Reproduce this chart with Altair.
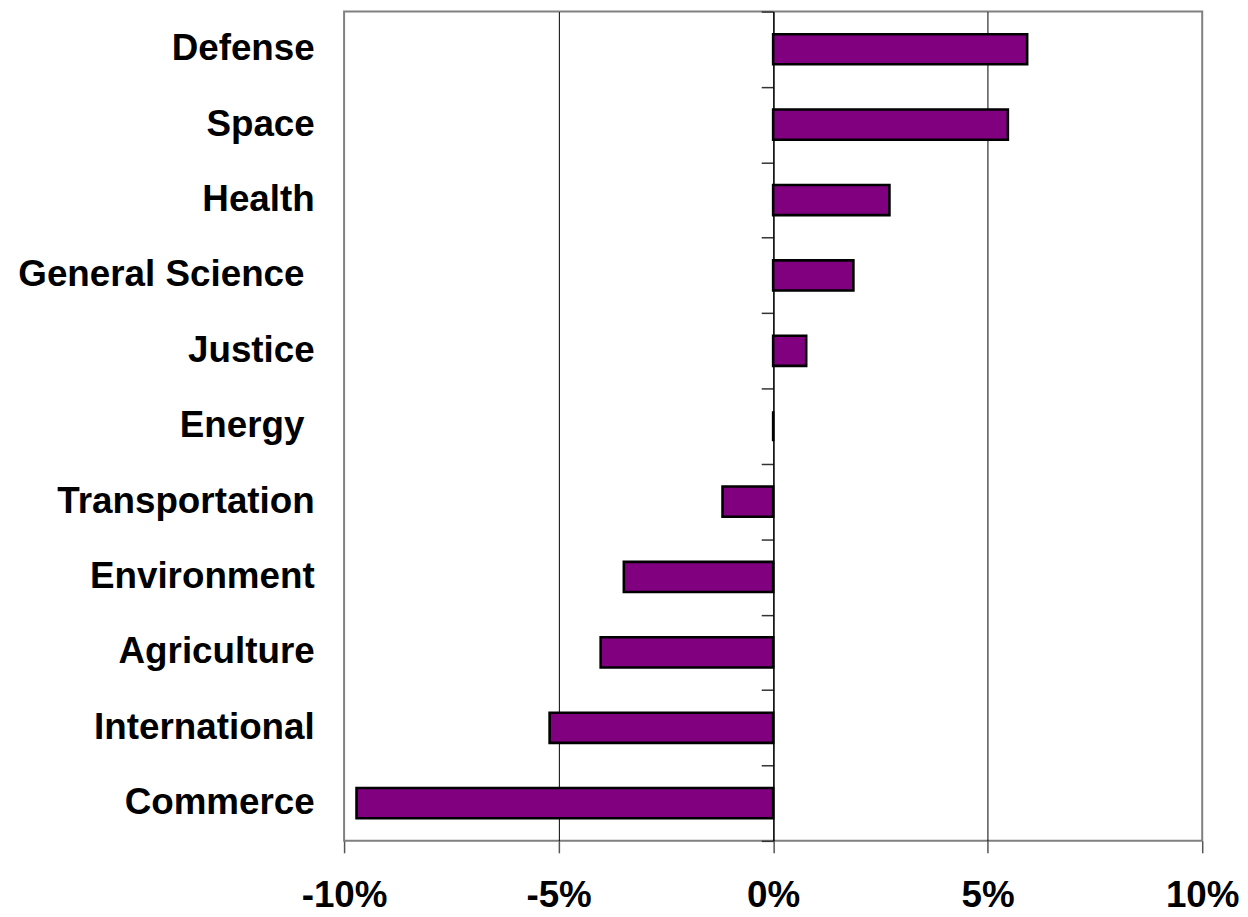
import altair as alt
import pandas as pd

categories = ["Defense", "Space", "Health", "General Science\u00a0\u200b", "Justice",
              "Energy\u00a0\u200b", "Transportation", "Environment", "Agriculture",
              "International", "Commerce"]
changes = [0.0592, 0.0547, 0.0271, 0.0187, 0.0077, 0.0, -0.0118, -0.0348,
           -0.0402, -0.0521, -0.0971]
x_ticks = [-0.10, -0.05, 0.0, 0.05, 0.10]

df = pd.DataFrame({"category": categories, "change": changes})

FONT = "Liberation Sans"
FS = 37

x_enc = alt.X(
    "change:Q",
    scale=alt.Scale(domain=[-0.1, 0.1], nice=False, zero=False),
    axis=alt.Axis(
        values=x_ticks, format=".0%", title=None, domain=False,
        labelExpr="replace(datum.label, '\u2212', '-')",
        grid=True, gridColor="black", gridWidth=1,
        gridOpacity=alt.condition("abs(datum.value) > 0.09", alt.value(0), alt.value(1)),
        ticks=True, tickSize=12, tickColor="#555555", tickWidth=1.5,
        labelFont=FONT, labelFontSize=FS, labelFontWeight="bold",
        labelColor="black", labelPadding=25, labelFlush=False, labelOverlap=False,
    ),
)

y_scale = alt.Scale(paddingInner=0, paddingOuter=0)

bars = alt.Chart(df).mark_bar(
    color="#800080", stroke="black", strokeWidth=2.6, height={"band": 0.4}
).encode(
    x=x_enc,
    y=alt.Y("category:N", sort=categories, scale=y_scale,
            axis=alt.Axis(orient="left", title=None, domain=False, ticks=False,
                          tickSize=0, grid=False, labelFont=FONT, labelFontSize=FS,
                          labelFontWeight="bold", labelColor="black",
                          labelPadding=30, labelLimit=600)),
)

tick_layer = alt.Chart(df).mark_bar(opacity=0, height={"band": 0.4}).encode(
    x=alt.X("change:Q"),
    y=alt.Y("category:N", sort=categories, scale=y_scale,
            axis=alt.Axis(orient="left", title=None, labels=False, grid=False,
                          domain=True, domainColor="black", domainWidth=1,
                          ticks=True, tickBand="extent", tickSize=12,
                          tickColor="#333333", tickWidth=1.5,
                          offset=alt.ExprRef(expr="-scale('x', 0)"))),
)

chart = alt.layer(bars, tick_layer).resolve_axis(y="independent").properties(
    width=863, height=834,
    padding={"left": 9, "top": 0, "right": 0, "bottom": 0},
).configure_view(stroke="#808080", strokeWidth=2)

chart.save("out.html", embed_options={"renderer": "svg", "actions": False})
